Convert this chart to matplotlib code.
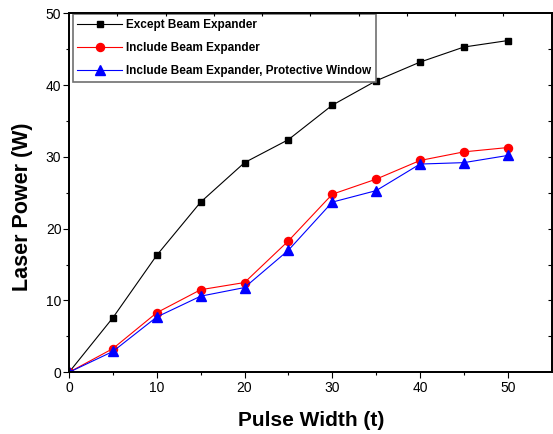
import matplotlib
matplotlib.use("Agg")
import matplotlib.pyplot as plt
import numpy as np

plt.rcParams['font.family'] = ['Liberation Sans', 'DejaVu Sans']

# data
pulse_width = [0, 5, 10, 15, 20, 25, 30, 35, 40, 45, 50]
except_expander = [0, 7.6, 16.3, 23.7, 29.2, 32.4, 37.2, 40.6, 43.2, 45.3, 46.2]
include_expander = [0, 3.3, 8.3, 11.5, 12.5, 18.3, 24.8, 26.9, 29.5, 30.7, 31.3]
include_window = [0, 2.9, 7.7, 10.6, 11.8, 17.0, 23.7, 25.3, 29.0, 29.2, 30.2]

labels = ["Except Beam Expander",
          "Include Beam Expander",
          "Include Beam Expander, Protective Window"]

fig = plt.figure(figsize=(5.53, 4.34), dpi=100)
ax = fig.add_axes([0.1248, 0.1422, 0.8728, 0.8272])

ax.plot(pulse_width, except_expander, color='black', lw=0.8,
        marker='s', ms=5, label=labels[0])
ax.plot(pulse_width, include_expander, color='red', lw=0.8,
        marker='o', ms=5.8, label=labels[1])
ax.plot(pulse_width, include_window, color='blue', lw=0.8,
        marker='^', ms=7, label=labels[2])

ax.set_xlim(0, 55)
ax.set_ylim(0, 50)
ax.set_xticks(np.arange(0, 51, 10))
ax.set_xticks(np.arange(5, 55, 10), minor=True)
ax.set_yticks(np.arange(0, 51, 10))
ax.set_yticks(np.arange(5, 50, 10), minor=True)
ax.tick_params(which='major', direction='out', length=4.5, width=0.8,
               labelsize=10, pad=2)
ax.tick_params(which='minor', direction='out', length=2.5, width=0.8)
ax.tick_params(axis='y', which='major', pad=1)

for s in ax.spines.values():
    s.set_linewidth(1.1)

# mirror axes with their own ticks, as in the original
top = ax.twiny()
top.set_xlim(0, 55)
top.set_xticks(np.arange(5.5, 55, 5.5))
top.tick_params(direction='in', length=2.5, width=0.8, labeltop=False)
right = ax.twinx()
right.set_ylim(0, 50)
right.set_yticks(np.arange(5, 50, 5))
right.tick_params(direction='in', length=3, width=0.8, labelright=False)
for s in top.spines.values():
    s.set_linewidth(1.1)
for s in right.spines.values():
    s.set_linewidth(1.1)

ax.set_xlabel("Pulse Width (t)", fontsize=15, fontweight='bold')
ax.set_ylabel("Laser Power (W)", fontsize=15.5, fontweight='bold')
ax.xaxis.set_label_coords(0.502, -0.108)
ax.yaxis.set_label_coords(-0.075, 0.462)

leg = ax.legend(loc='upper left', bbox_to_anchor=(0.0077, 0.998),
                borderaxespad=0, prop={'weight': 'bold', 'size': 8.5},
                fancybox=False, handlelength=3.8, handletextpad=0.3,
                borderpad=0.4, labelspacing=0.95, framealpha=1)
leg.get_frame().set_edgecolor('#707070')
leg.get_frame().set_linewidth(1.2)
leg.set_zorder(5)

fig.savefig("out.png", dpi=100)
